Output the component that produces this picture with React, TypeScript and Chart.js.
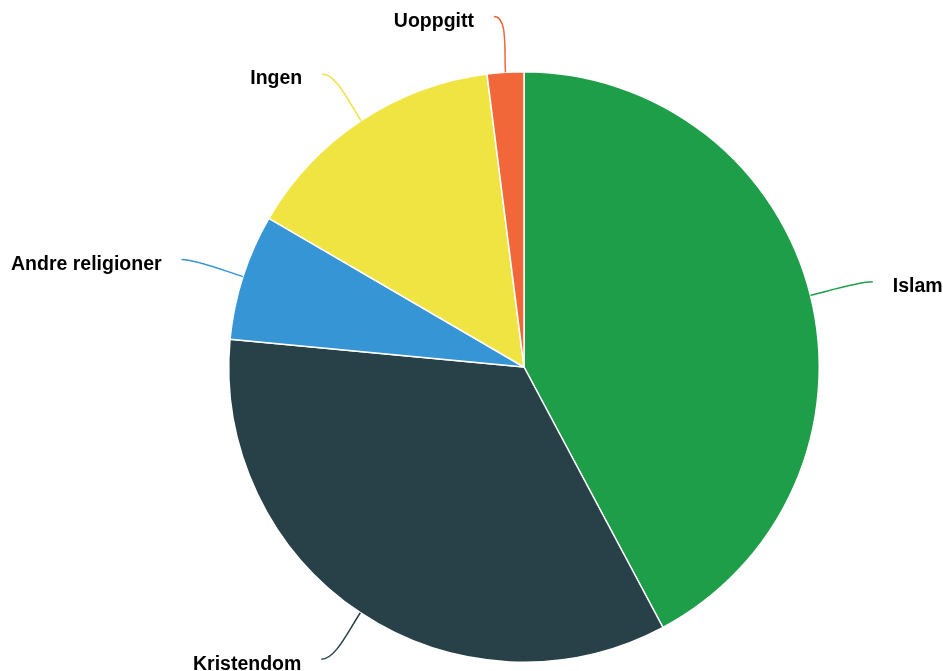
import React, { useEffect, useRef } from "react";
import { Chart, registerables } from "chart.js";

Chart.register(...registerables);

const categories = ["Islam", "Kristendom", "Andre religioner", "Ingen", "Uoppgitt"];
const values = [42.2, 34.3, 6.9, 14.6, 2.0];
const colors = ["#1f9e4a", "#284148", "#3595d5", "#efe442", "#f2673a"];

const labelPlugin = {
  id: "outsideLabels",
  afterDatasetsDraw(chart: any) {
    const ctx = chart.ctx;
    const meta = chart.getDatasetMeta(0);
    ctx.save();
    ctx.font = "bold 19.5px 'Liberation Sans', Arial, sans-serif";
    ctx.textBaseline = "middle";
    meta.data.forEach((arc: any, i: number) => {
      const { x: cx, y: cy, startAngle, endAngle, outerRadius } = arc.getProps(
        ["x", "y", "startAngle", "endAngle", "outerRadius"],
        true
      );
      const mid = (startAngle + endAngle) / 2;
      const cos = Math.cos(mid);
      const sin = Math.sin(mid);
      const ax = cx + outerRadius * cos;
      const ay = cy + outerRadius * sin;
      const lr = outerRadius + 56;
      const ey = cy + lr * sin;
      const right = cos >= 0;
      const dx = Math.abs(lr * cos) + 8;
      const ex = cx + (right ? dx : -dx);
      const dir = right ? -1 : 1;
      ctx.strokeStyle = colors[i];
      ctx.lineWidth = 1.5;
      ctx.beginPath();
      ctx.moveTo(ex, ey);
      ctx.bezierCurveTo(
        ex + dir * 14,
        ey,
        ax + cos * 22,
        ay + sin * 22,
        ax,
        ay
      );
      ctx.stroke();
      ctx.fillStyle = "#000000";
      ctx.textAlign = right ? "left" : "right";
      ctx.fillText(categories[i], ex + (right ? 20 : -20), ey + 5);
    });
    ctx.restore();
  },
};

export default function App() {
  const ref = useRef<HTMLCanvasElement>(null);
  useEffect(() => {
    if (!ref.current) return;
    const chart = new Chart(ref.current, {
      type: "pie",
      data: {
        labels: categories,
        datasets: [
          {
            data: values,
            backgroundColor: colors,
            borderColor: "#ffffff",
            borderWidth: 1.5,
          },
        ],
      },
      options: {
        responsive: false,
        animation: false,
        layout: { padding: { top: 70, bottom: 7, left: 228, right: 123 } },
        plugins: {
          legend: { display: false },
          tooltip: { enabled: false },
        },
      },
      plugins: [labelPlugin],
    });
    return () => chart.destroy();
  }, []);
  return (
    <div style={{ position: "fixed", left: 0, top: 0, width: 943, height: 671, background: "#fff" }}>
      <canvas ref={ref} width={943} height={671} style={{ display: "block" }} />
    </div>
  );
}
